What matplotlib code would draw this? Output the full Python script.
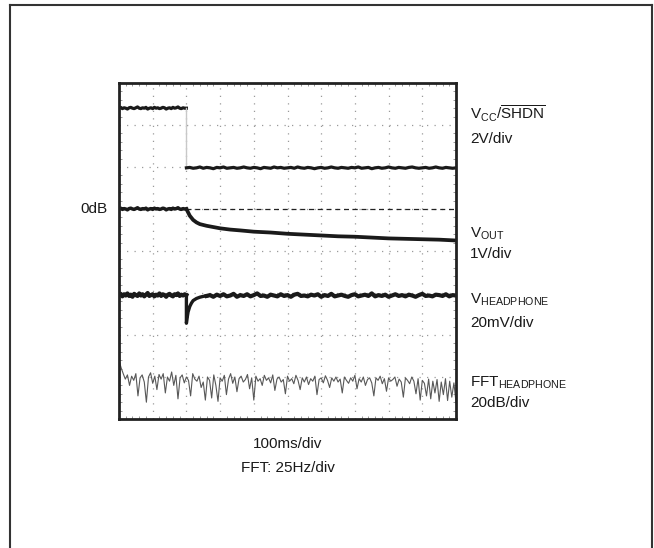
import numpy as np
import matplotlib
matplotlib.use('Agg')
import matplotlib.pyplot as plt
from matplotlib.lines import Line2D
from matplotlib.ticker import MultipleLocator

plt.rcParams['font.family'] = ['Liberation Sans', 'DejaVu Sans']
plt.rcParams['mathtext.fontset'] = 'custom'
plt.rcParams['mathtext.rm'] = 'Liberation Sans'
plt.rcParams['mathtext.it'] = 'Liberation Sans:italic'
plt.rcParams['mathtext.bf'] = 'Liberation Sans:bold'

# scope screen: 10 horizontal divisions (100ms/div), 8 vertical divisions
n_xdiv = 10
n_ydiv = 8
step_x = 2.0       # shutdown released at 2nd division
zero_db = 5.0      # 0dB reference level

# VCC/SHDN trace (2V/div), sampled every 0.05 div before / 0.1 div after
vcc_high = [7.40, 7.42, 7.39, 7.41, 7.40, 7.38, 7.41, 7.42, 7.40, 7.39,
            7.41, 7.43, 7.40, 7.39, 7.41, 7.40, 7.42, 7.38, 7.40, 7.41,
            7.39, 7.42, 7.40, 7.41, 7.39, 7.40, 7.42, 7.41, 7.38, 7.40,
            7.41, 7.39, 7.42, 7.40, 7.41, 7.43, 7.40, 7.39, 7.41, 7.40, 7.40]
vcc_low = [5.98, 5.99, 5.97, 5.98, 6.00, 5.97, 5.99, 5.98, 5.96, 5.99,
           5.98, 6.00, 5.97, 5.98, 5.99, 5.97, 5.98, 6.00, 5.98, 5.97,
           5.99, 5.98, 5.96, 5.99, 5.98, 5.97, 6.00, 5.98, 5.99, 5.97,
           5.98, 5.99, 5.97, 6.00, 5.98, 5.97, 5.99, 5.98, 5.96, 5.98,
           5.99, 5.97, 5.98, 6.00, 5.98, 5.97, 5.99, 5.98, 5.97, 5.99,
           5.98, 6.00, 5.97, 5.98, 5.99, 5.96, 5.98, 5.99, 5.97, 5.98,
           6.00, 5.98, 5.97, 5.99, 5.98, 5.97, 5.99, 6.00, 5.98, 5.97,
           5.98, 5.99, 5.97, 5.98, 6.00, 5.98, 5.97, 5.99, 5.98, 5.97, 5.98]

# VOUT trace (1V/div)
vout_pre = [5.00, 5.02, 4.99, 5.01, 5.00, 4.98, 5.01, 5.02, 5.00, 4.99,
            5.01, 5.03, 5.00, 4.99, 5.01, 5.00, 5.02, 4.98, 5.00, 5.01,
            4.99, 5.02, 5.00, 5.01, 4.99, 5.00, 5.02, 5.01, 4.98, 5.00,
            5.01, 4.99, 5.02, 5.00, 5.01, 5.03, 5.00, 4.99, 5.01, 5.00, 5.00]
vout_post_x = [2.0, 2.05, 2.1, 2.2, 2.3, 2.4, 2.6, 2.8, 3.0, 3.3, 3.6, 4.0,
               4.5, 5.0, 5.5, 6.0, 6.5, 7.0, 7.5, 8.0, 8.5, 9.0, 9.5, 10.0]
vout_post_y = [5.00, 4.92, 4.84, 4.74, 4.68, 4.64, 4.60, 4.57, 4.54, 4.51,
               4.49, 4.46, 4.44, 4.41, 4.39, 4.37, 4.35, 4.34, 4.32, 4.30,
               4.29, 4.28, 4.27, 4.25]

# VHEADPHONE trace (20mV/div)
vhp_pre = [2.95, 2.98, 2.92, 2.97, 2.94, 2.99, 2.93, 2.96, 2.91, 2.98,
           2.95, 2.93, 2.99, 2.94, 2.97, 2.92, 2.96, 3.00, 2.93, 2.95,
           2.97, 2.92, 2.96, 2.94, 2.99, 2.93, 2.97, 2.95, 2.91, 2.96,
           2.98, 2.94, 2.92, 2.97, 2.95, 2.99, 2.93, 2.96, 2.94, 2.97, 2.95]
vhp_dip_x = [2.0, 2.0, 2.02, 2.05, 2.1, 2.15, 2.2, 2.3, 2.4, 2.5, 2.6]
vhp_dip_y = [2.95, 2.28, 2.40, 2.55, 2.68, 2.76, 2.82, 2.87, 2.90, 2.92, 2.93]
vhp_post = [2.93, 2.95, 2.91, 2.96, 2.93, 2.97, 2.92, 2.94, 2.98, 2.91,
            2.95, 2.93, 2.97, 2.92, 2.95, 2.99, 2.93, 2.94, 2.91, 2.96,
            2.94, 2.92, 2.97, 2.93, 2.95, 2.91, 2.96, 2.98, 2.93, 2.94,
            2.92, 2.96, 2.94, 2.97, 2.91, 2.95, 2.93, 2.98, 2.92, 2.94,
            2.96, 2.93, 2.91, 2.95, 2.97, 2.92, 2.94, 2.96, 2.93, 2.99,
            2.92, 2.95, 2.93, 2.96, 2.91, 2.94, 2.97, 2.93, 2.95, 2.92,
            2.96, 2.94, 2.91, 2.95, 2.98, 2.93, 2.94, 2.92, 2.96, 2.95,
            2.93, 2.97, 2.92, 2.95, 2.94]

# FFT of headphone output (20dB/div, 25Hz/div)
fft_y = [1.40, 1.22, 1.08, 0.95, 1.05, 0.80, 1.02, 0.92, 1.08, 0.55,
         0.98, 1.05, 0.88, 0.40, 1.00, 1.10, 0.85, 1.02, 0.70, 1.06,
         0.95, 1.08, 0.62, 1.00, 0.90, 1.12, 0.80, 1.04, 0.48, 0.98,
         1.05, 0.86, 1.00, 0.92, 0.55, 1.08, 0.95, 0.90, 1.02, 0.75,
         0.88, 0.45, 1.00, 0.92, 0.50, 1.05, 0.80, 0.42, 0.98, 0.90,
         1.04, 0.58, 0.95, 1.08, 0.85, 1.00, 0.65, 0.96, 1.02, 0.88,
         0.94, 1.06, 0.72, 0.98, 0.45, 1.02, 0.90, 0.96, 0.80, 1.04,
         0.92, 0.98, 0.86, 1.05, 0.68, 0.95, 1.00, 0.88, 0.94, 0.60,
         1.02, 0.90, 0.96, 0.84, 1.04, 0.92, 0.70, 0.98, 0.88, 1.00,
         0.82, 0.96, 0.90, 1.02, 0.58, 0.94, 0.98, 0.86, 1.03, 0.92,
         0.75, 0.98, 0.90, 1.00, 0.88, 0.95, 0.62, 1.00, 0.92, 0.85,
         0.98, 0.90, 1.04, 0.72, 0.96, 0.88, 1.00, 0.80, 0.94, 0.98,
         0.86, 0.55, 0.98, 0.92, 1.02, 0.84, 0.96, 0.66, 0.98, 0.90,
         0.94, 1.00, 0.78, 0.95, 0.88, 0.52, 0.98, 0.92, 0.84, 1.00,
         0.90, 0.60, 0.96, 0.45, 0.92, 0.85, 0.55, 0.95, 0.48, 0.90,
         0.62, 0.94, 0.42, 0.88, 0.58, 0.96, 0.44, 0.90, 0.52, 0.86,
         0.40]

fig = plt.figure(figsize=(6.54, 5.48), dpi=100)
ax = fig.add_axes([119 / 654, 1 - 419 / 548, 337 / 654, 336 / 548])

trace = '#1a1a1a'
ax.plot(np.linspace(0, step_x, len(vcc_high)), vcc_high, color=trace, lw=2.3)
ax.plot([step_x, step_x], [vcc_high[-1], vcc_low[0]], color='#c8c8c8', lw=1.0)
ax.plot(np.linspace(step_x, n_xdiv, len(vcc_low)), vcc_low, color=trace, lw=2.3)

ax.plot([step_x, n_xdiv], [zero_db, zero_db], color='#222222', lw=0.9,
        linestyle=(0, (4, 3)))
ax.plot(np.linspace(0, step_x, len(vout_pre)), vout_pre, color=trace, lw=2.5)
ax.plot(vout_post_x, vout_post_y, color=trace, lw=2.7)

ax.plot(np.linspace(0, step_x, len(vhp_pre)), vhp_pre, color=trace, lw=3.0)
ax.plot(vhp_dip_x, vhp_dip_y, color=trace, lw=2.4)
ax.plot(np.linspace(vhp_dip_x[-1], n_xdiv, len(vhp_post)), vhp_post,
        color=trace, lw=3.0)

ax.plot(np.linspace(0, n_xdiv, len(fft_y)), fft_y, color='#585858', lw=0.8)

ax.set_xlim(0, n_xdiv)
ax.set_ylim(0, n_ydiv)
ax.set_xticks(range(n_xdiv + 1))
ax.set_yticks(range(n_ydiv + 1))
ax.xaxis.set_minor_locator(MultipleLocator(0.2))
ax.yaxis.set_minor_locator(MultipleLocator(0.2))
ax.tick_params(which='major', length=0, labelbottom=False, labelleft=False)
ax.tick_params(which='minor', direction='in', length=2.5, width=0.6,
               color='#888888', top=True, right=True)
ax.grid(True, which='major', color='#9a9a9a', lw=0.9, linestyle=(0, (1, 5)))
for sp in ax.spines.values():
    sp.set_linewidth(2.0)
    sp.set_color('#222222')

fs = 11
ax.text(-0.33, zero_db, '0dB', ha='right', va='center', fontsize=fs,
        color='#1a1a1a')

def label(x, y, s):
    fig.text(x / 654, 1 - y / 548, s, fontsize=fs, va='baseline', ha='left',
             color='#1a1a1a')

label(470, 120, r'V$_{\rm CC}$/$\overline{\rm SHDN}$')
label(470, 143, '2V/div')
label(470, 238, r'V$_{\rm OUT}$')
label(470, 258, '1V/div')
label(470, 304, r'V$_{\rm HEADPHONE}$')
label(470, 327, '20mV/div')
label(470, 387, r'FFT$_{\rm HEADPHONE}$')
label(470, 407, '20dB/div')

fig.text(287.5 / 654, 1 - 448 / 548, '100ms/div', fontsize=fs, ha='center',
         va='baseline', color='#1a1a1a')
fig.text(287.5 / 654, 1 - 472 / 548, 'FFT: 25Hz/div', fontsize=fs,
         ha='center', va='baseline', color='#1a1a1a')

# outer frame (bottom edge runs off the picture)
frame = dict(color='#333333', lw=1.5, transform=fig.transFigure)
fig.add_artist(Line2D([10 / 654, 10 / 654], [0, 1 - 5 / 548], **frame))
fig.add_artist(Line2D([10 / 654, 652 / 654], [1 - 5 / 548, 1 - 5 / 548], **frame))
fig.add_artist(Line2D([652 / 654, 652 / 654], [0, 1 - 5 / 548], **frame))

fig.savefig('out.png', dpi=100)
